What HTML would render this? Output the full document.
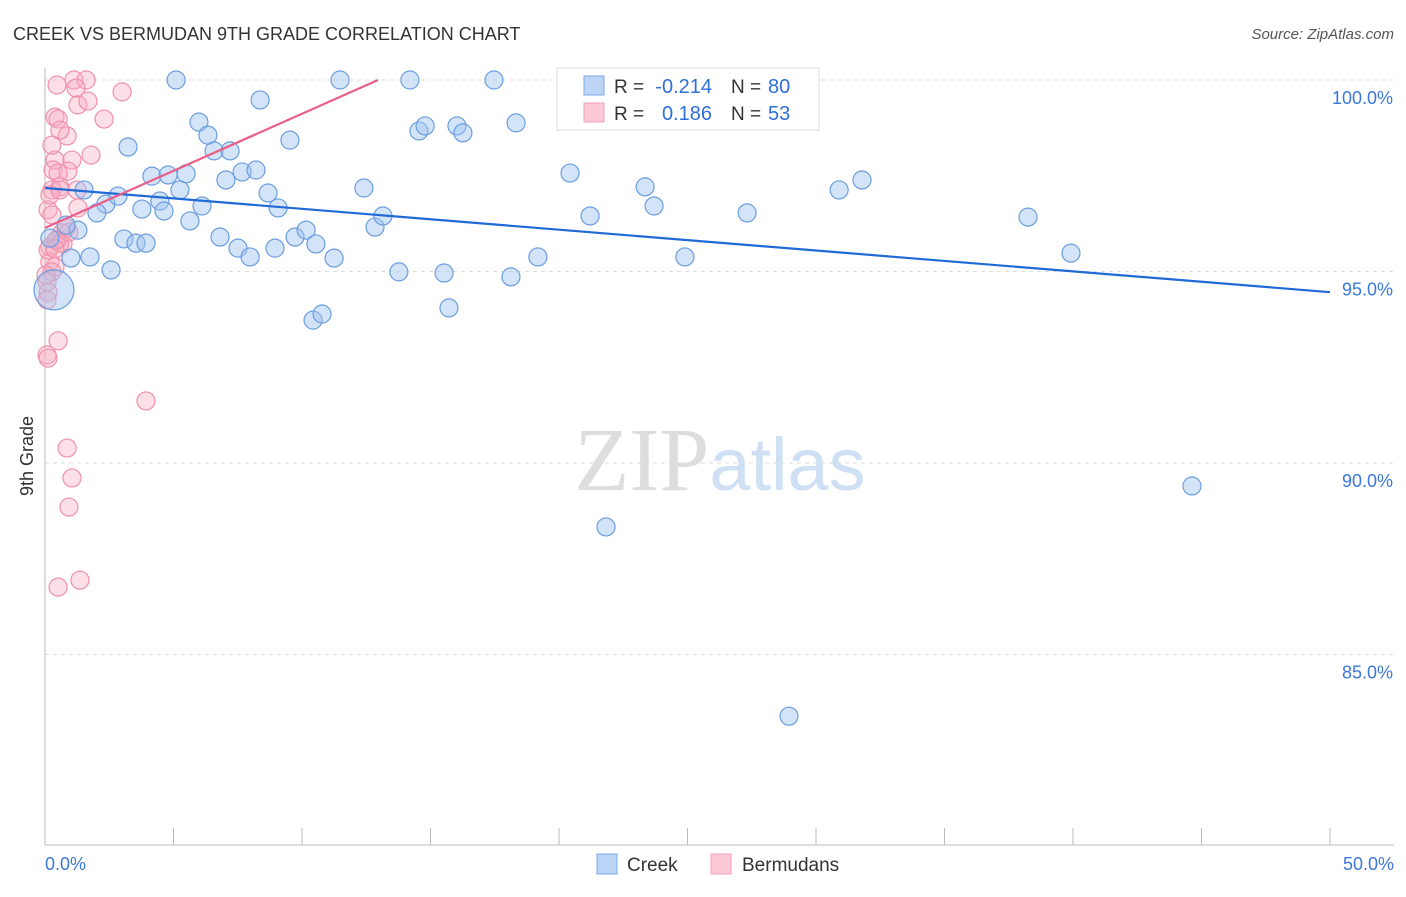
<!DOCTYPE html>
<html><head><meta charset="utf-8"><style>
body{margin:0;background:#fff;font-family:"Liberation Sans",sans-serif}
svg text{font-family:"Liberation Sans",sans-serif}
</style></head><body>
<svg id="chart" width="1406" height="892" viewBox="0 0 1406 892" xmlns="http://www.w3.org/2000/svg">
<text x="13" y="40" font-size="18" fill="#333">CREEK VS BERMUDAN 9TH GRADE CORRELATION CHART</text>
<text x="1394" y="39" font-size="15" fill="#555" text-anchor="end" font-style="italic">Source: ZipAtlas.com</text>
<g id="grid"></g>
<text x="720" y="490" font-size="90" text-anchor="middle"><tspan fill="#ddd" font-family="Liberation Serif,serif">ZIP</tspan><tspan fill="#cfe0f5" font-size="74">atlas</tspan></text>
<text transform="translate(33,456) rotate(-90)" font-size="18" fill="#333" text-anchor="middle">9th Grade</text>
<g id="marks"></g>
<g>
<rect x="557" y="68" width="262" height="62" fill="#fff" stroke="#ddd"/>
<rect x="584" y="76" width="20" height="19" fill="#bcd4f6" stroke="#7aa7e8"/>
<rect x="584" y="103" width="20" height="19" fill="#fbc9d6" stroke="#f0a0b8"/>
<text x="614" y="93" font-size="19" fill="#333">R =</text>
<text x="712" y="93" font-size="20" fill="#2f6fd6" text-anchor="end">-0.214</text>
<text x="731" y="93" font-size="19" fill="#333">N =</text>
<text x="768" y="93" font-size="20" fill="#2f6fd6">80</text>
<text x="614" y="120" font-size="19" fill="#333">R =</text>
<text x="712" y="120" font-size="20" fill="#2f6fd6" text-anchor="end">0.186</text>
<text x="731" y="120" font-size="19" fill="#333">N =</text>
<text x="768" y="120" font-size="20" fill="#2f6fd6">53</text>
</g>
<g>
<rect x="597" y="854" width="20" height="20" fill="#bcd4f6" stroke="#7aa7e8"/>
<text x="627" y="871" font-size="19" fill="#333">Creek</text>
<rect x="711" y="854" width="20" height="20" fill="#fbc9d6" stroke="#f0a0b8"/>
<text x="742" y="871" font-size="19" fill="#333">Bermudans</text>
</g>
</svg>
<script>
const xTicks=[0,50];
const yTicks=[100,95,90,85];
const creekX=[5.10,11.48,14.20,17.47,22.30,22.92,8.37,5.99,6.34,3.23,6.58,7.20,9.53,14.55,14.79,16.03,16.26,18.33,4.16,4.79,5.49,5.25,7.04,7.67,8.21,8.68,9.07,6.11,5.64,4.47,4.63,3.77,2.37,2.84,2.02,1.52,1.28,0.82,0.19,1.01,1.75,2.57,3.07,3.54,3.93,6.81,7.51,7.98,8.95,9.73,10.16,10.54,11.25,12.41,12.84,13.15,13.77,15.53,15.72,18.13,19.18,10.43,10.78,20.43,21.21,23.35,23.70,24.90,27.32,30.90,31.79,38.25,39.92,44.63,21.83,28.95];
const creekY=[100,100,100,100,100,100,99.48,98.90,98.56,98.25,98.15,98.15,98.43,98.67,98.80,98.80,98.62,98.88,97.49,97.52,97.55,97.13,97.39,97.60,97.65,97.05,96.66,96.71,96.32,96.84,96.58,96.63,96.76,96.97,96.53,97.13,96.08,96.21,95.87,95.35,95.38,95.04,95.85,95.74,95.74,95.90,95.61,95.38,95.61,95.90,96.08,95.72,95.35,97.18,96.16,96.45,94.99,94.96,94.05,94.86,95.38,93.73,93.89,97.57,96.45,97.21,96.71,95.38,96.53,97.13,97.39,96.42,95.48,89.40,88.33,83.39];
const bigX=[0.35], bigY=[94.52];
const bermX=[0.47,1.13,1.60,1.21,3.00,1.28,1.67,0.39,0.51,2.30,0.86,0.58,1.79,1.05,0.39,0.31,0.89,0.51,0.58,1.25,0.27,1.28,0.12,0.27,0.82,0.66,0.51,0.19,0.70,0.19,0.39,0.27,0.08,0.12,0.51,0.08,0.12,3.93,0.86,1.05,0.93,1.36,0.51,0.12,0.19,0.58,0.43,0.04,0.27,0.58,0.39,0.08,0.93];
const bermY=[99.87,100,100,99.79,99.69,99.35,99.45,99.03,98.98,98.98,98.54,98.69,98.04,97.91,97.91,97.65,97.62,97.57,97.21,97.13,97.13,96.66,96.61,96.48,96.14,96.01,95.82,95.64,95.72,95.25,95.12,94.99,94.73,94.46,93.19,92.82,92.74,91.62,90.39,89.61,88.85,86.94,86.76,95.56,97.00,95.74,95.82,94.91,98.30,97.13,95.59,94.26,96.03];
const creekTrend=[[0,97.18],[50,94.46]];
const bermTrend=[[0,96.14],[12.96,100]];
const NS='http://www.w3.org/2000/svg';
const X0=45,X1=1330,Y100=80,PX5=191.5;
const sx=v=>X0+(v-xTicks[0])/(xTicks[1]-xTicks[0])*(X1-X0);
const sy=v=>Y100+(100-v)/5*PX5;
function mk(tag,at,parent){const e=document.createElementNS(NS,tag);for(const k in at)e.setAttribute(k,at[k]);parent.appendChild(e);return e;}
const grid=document.getElementById('grid'),marks=document.getElementById('marks');
yTicks.forEach(t=>{
 const l=mk('line',{x1:X0,x2:1394,y1:sy(t),y2:sy(t),stroke:'#ddd','stroke-dasharray':'4,4'},grid);
 
 
 const tx=mk('text',{x:1393,y:sy(t)+24,'font-size':18,fill:'#3b78d8','text-anchor':'end'},grid);
 tx.textContent=t.toFixed(1)+'%';
 
 
});
mk('line',{x1:X0,x2:X0,y1:68,y2:845,stroke:'#bbb'},grid);
mk('line',{x1:X0,x2:1394,y1:845,y2:845,stroke:'#bbb'},grid);
for(let i=0;i<=10;i++){const x=X0+i*(X1-X0)/10;mk('line',{x1:x,x2:x,y1:828,y2:845,stroke:'#bbb'},grid);}
xTicks.forEach((t,i)=>{
 const tx=mk('text',{x:i?1394:45,y:870,'font-size':18,fill:'#3b78d8','text-anchor':i?'end':'start'},grid);
 tx.textContent=t.toFixed(1)+'%';
 
 
});
bermX.forEach((x,i)=>{
 const c=mk('circle',{cx:sx(x),cy:sy(bermY[i]),r:9,fill:'rgba(246,170,192,0.38)',stroke:'#f090ac','stroke-width':1.2},marks);
 
 
});
creekX.forEach((x,i)=>{
 const c=mk('circle',{cx:sx(x),cy:sy(creekY[i]),r:9,fill:'rgba(160,196,240,0.45)',stroke:'#6a9de0','stroke-width':1.2},marks);
 
 
});
bigX.forEach((x,i)=>{
 const c=mk('circle',{cx:sx(x),cy:sy(bigY[i]),r:20,fill:'rgba(160,196,240,0.45)',stroke:'#6a9de0','stroke-width':1.2},marks);
 
 
});
const t1=mk('line',{x1:sx(creekTrend[0][0]),y1:sy(creekTrend[0][1]),x2:sx(creekTrend[1][0]),y2:sy(creekTrend[1][1]),stroke:'#1f6ad6','stroke-width':2.2},marks);


const t2=mk('line',{x1:sx(bermTrend[0][0]),y1:sy(bermTrend[0][1]),x2:sx(bermTrend[1][0]),y2:sy(bermTrend[1][1]),stroke:'#e8608a','stroke-width':2.2},marks);


</script>
</body></html>
